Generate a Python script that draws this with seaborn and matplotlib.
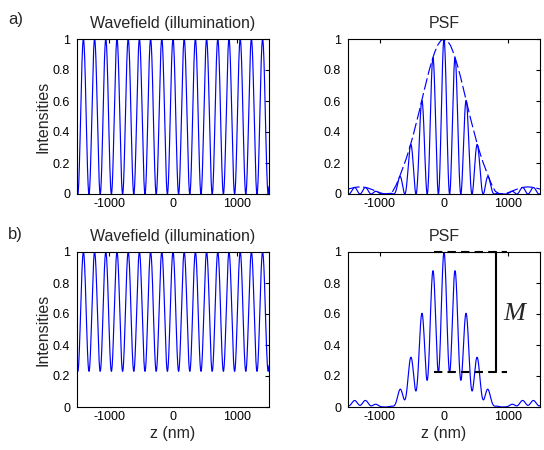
import numpy as np
import pandas as pd
import matplotlib
matplotlib.use("Agg")
import matplotlib.pyplot as plt
import seaborn as sns

# values
z_lim = [-1500, 1500]
z_ticks = [-1000, 0, 1000]
y_ticks = [0, 0.2, 0.4, 0.6, 0.8, 1]
y_tick_labels = ["0", "0.2", "0.4", "0.6", "0.8", "1"]
fringe_period = 175      # nm between intensity maxima
floor_a = 0.0            # wavefield minimum in a)
floor_b = 0.23           # wavefield minimum in b)

# PSF envelope (dashed curve in a), read every 50 nm from z=0 outwards
env_z = [0, 50, 100, 150, 200, 250, 300, 350, 400, 450, 500, 550, 600, 650,
         700, 750, 800, 850, 900, 950, 1000, 1050, 1100, 1150, 1200, 1250,
         1300, 1350, 1400, 1450, 1500]
env_val = [1.0, 0.99, 0.96, 0.91, 0.845, 0.77, 0.685, 0.60, 0.51, 0.43,
           0.35, 0.28, 0.215, 0.16, 0.105, 0.055, 0.018, 0.004, 0.0, 0.002,
           0.008, 0.016, 0.025, 0.033, 0.040, 0.044, 0.046, 0.045, 0.042,
           0.037, 0.032]

# modulation depth marker in b)
m_top = 1.0
m_bottom = 0.227
m_x = 812
m_x_from = -160
m_x_to = 990
m_label_pos = (1100, 0.6)

z = np.arange(z_lim[0], z_lim[1] + 1, 2)
env = np.interp(np.abs(z), env_z, env_val)
fringe = np.cos(np.pi * z / fringe_period) ** 2

df = pd.DataFrame({
    "z": z,
    "wave_a": floor_a + (1 - floor_a) * fringe,
    "wave_b": floor_b + (1 - floor_b) * fringe,
    "env": env,
})
df["psf_a"] = df["env"] * df["wave_a"]
df["psf_b"] = df["env"] * df["wave_b"]

sns.set_style("white")
plt.rcParams["font.family"] = ["Liberation Sans", "DejaVu Sans"]

fig = plt.figure(figsize=(5.44, 4.5), dpi=100)
W, H = 544, 450


def make_ax(left, top, right, bottom):
    return fig.add_axes([left / W, 1 - bottom / H, (right - left) / W, (bottom - top) / H])


ax_a1 = make_ax(77, 39, 269, 194)
ax_a2 = make_ax(348, 39, 540, 194)
ax_b1 = make_ax(77, 252, 269, 407)
ax_b2 = make_ax(348, 252, 540, 407)

blue = "#0000ff"
sns.lineplot(data=df, x="z", y="wave_a", ax=ax_a1, color=blue, lw=0.85, estimator=None, sort=False)
sns.lineplot(data=df, x="z", y="psf_a", ax=ax_a2, color=blue, lw=0.85, estimator=None, sort=False)
sns.lineplot(data=df, x="z", y="env", ax=ax_a2, color=blue, lw=0.85, estimator=None, sort=False)
ax_a2.lines[-1].set_dashes((10, 3))
sns.lineplot(data=df, x="z", y="wave_b", ax=ax_b1, color=blue, lw=0.85, estimator=None, sort=False)
sns.lineplot(data=df, x="z", y="psf_b", ax=ax_b2, color=blue, lw=0.85, estimator=None, sort=False)

# M marker
for yv in (m_top, m_bottom):
    ax_b2.plot([m_x_from, m_x_to], [yv, yv], color="black", lw=1.5, dashes=(4, 2.5),
               clip_on=False, zorder=5)
ax_b2.plot([m_x, m_x], [m_bottom, m_top], color="black", lw=1.5, clip_on=False, zorder=5)
ax_b2.text(m_label_pos[0], m_label_pos[1], "M", fontsize=19, style="italic",
           family=["Liberation Serif", "DejaVu Serif"], ha="center", va="center")

for ax, title in [(ax_a1, "Wavefield (illumination)"), (ax_a2, "PSF"),
                  (ax_b1, "Wavefield (illumination)"), (ax_b2, "PSF")]:
    ax.set_xlim(z_lim)
    ax.set_ylim(0, 1)
    ax.set_xticks(z_ticks)
    ax.set_xticklabels([str(t) for t in z_ticks])
    ax.set_yticks(y_ticks)
    ax.set_yticklabels(y_tick_labels)
    ax.tick_params(direction="in", top=True, right=True, length=3, width=0.8,
                   labelsize=9, colors="black")
    ax.tick_params(axis="y", pad=5)
    ax.tick_params(axis="x", pad=3)
    for s in ax.spines.values():
        s.set_color("black")
        s.set_linewidth(0.8)
        s.set_visible(True)
    ax.set_title(title, fontsize=11.5, pad=8)
    ax.set_xlabel("")
    ax.set_ylabel("")

for ax in (ax_a1, ax_b1):
    ax.set_ylabel("Intensities", fontsize=11.5)
    ax.yaxis.set_label_coords(-0.14, 0.5)
for ax in (ax_b1, ax_b2):
    ax.set_xlabel("z (nm)", fontsize=11.5)
    ax.xaxis.set_label_coords(0.5, -0.125)

fig.text(8 / W, 1 - 19.5 / H, "a)", fontsize=12, ha="left", va="center")
fig.text(8 / W, 1 - 234 / H, "b)", fontsize=12, ha="left", va="center")

fig.savefig("out.png", dpi=100)
